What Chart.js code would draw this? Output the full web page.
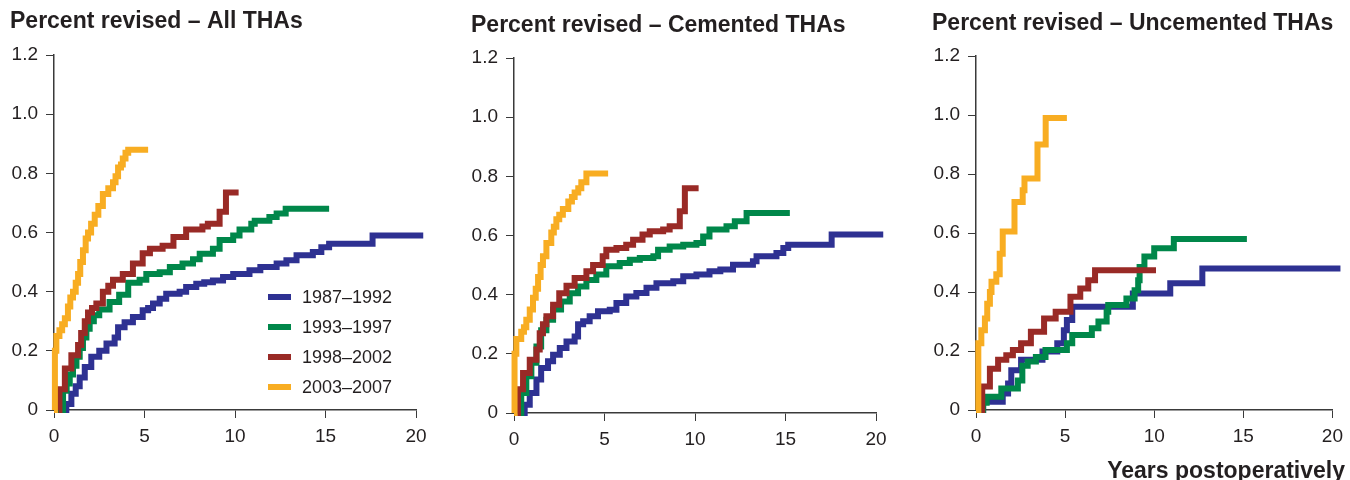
<!DOCTYPE html>
<html>
<head>
<meta charset="utf-8">
<script src="https://cdn.jsdelivr.net/npm/chart.js@4/dist/chart.umd.min.js"></script>
<style>
  body { margin: 0; background: #fff; width: 1350px; height: 480px; overflow: hidden; position: relative;
         font-family: 'Liberation Sans', Arial, sans-serif; color: #231f20; }
  canvas { position: absolute; top: 0; }
  #legend { position: absolute; left: 268px; top: 282px; font-size: 18px; }
  .legend-row { height: 30px; display: flex; align-items: center; }
  .swatch { width: 23px; height: 6px; margin-right: 11px; }
  #xname { position: absolute; right: 5px; top: 457px; font-size: 23px; font-weight: bold; line-height: 26px; }
</style>
</head>
<body>
<canvas id="allChart" width="440" height="480" style="left:0px"></canvas>
<canvas id="cemChart" width="440" height="480" style="left:461px"></canvas>
<canvas id="uncChart" width="428" height="480" style="left:922px"></canvas>
<div id="legend"></div>
<div id="xname">Years postoperatively</div>
<script>
// --- series meta ---
const seriesNames = ['1987–1992', '1993–1997', '1998–2002', '2003–2007'];
const seriesColors = ['#2e3192', '#00874a', '#992a26', '#f8ad22'];
const xTickLabels = ['0', '5', '10', '15', '20'];
const yTickLabels = ['0', '0.2', '0.4', '0.6', '0.8', '1.0', '1.2'];
const panelTitles = ['Percent revised – All THAs', 'Percent revised – Cemented THAs', 'Percent revised – Uncemented THAs'];

// --- All THAs (years, percent revised) ---
const allBlueT = [0.4, 0.68, 0.96, 1.2, 1.42, 1.7, 2.06, 2.5, 2.9, 3.35, 3.54, 3.9, 4.36, 4.9, 5.2, 5.47, 5.84, 6.2, 6.94, 7.3, 7.86, 8.3, 8.78, 9.34, 9.9, 10.8, 11.4, 12.3, 12.84, 13.4, 14.3, 14.77, 15.2, 17.6, 20.4];
const allBlueV = [0, 0.02, 0.055, 0.08, 0.11, 0.145, 0.18, 0.2, 0.225, 0.245, 0.28, 0.297, 0.314, 0.337, 0.345, 0.36, 0.376, 0.393, 0.4, 0.416, 0.427, 0.432, 0.438, 0.45, 0.46, 0.472, 0.483, 0.495, 0.506, 0.523, 0.534, 0.55, 0.562, 0.59, 0.59];
const allGreenT = [0.2, 0.5, 0.7, 0.87, 1.05, 1.24, 1.42, 1.6, 1.79, 1.97, 2.2, 2.5, 3.07, 3.6, 4.1, 4.73, 5.1, 5.84, 6.4, 7.1, 7.68, 8.05, 8.78, 9.15, 9.9, 10.25, 10.9, 11.09, 11.9, 12.3, 12.8, 15.2];
const allGreenV = [0, 0.065, 0.09, 0.12, 0.15, 0.18, 0.21, 0.245, 0.275, 0.3, 0.32, 0.34, 0.365, 0.39, 0.43, 0.44, 0.46, 0.466, 0.483, 0.495, 0.51, 0.528, 0.545, 0.575, 0.59, 0.61, 0.63, 0.64, 0.652, 0.664, 0.68, 0.68];
const allRedT = [0.25, 0.3, 0.6, 0.96, 1.33, 1.5, 1.7, 1.88, 2.1, 2.34, 2.7, 3.0, 3.26, 3.8, 4.36, 4.9, 5.3, 6.0, 6.6, 7.3, 8.2, 8.5, 9.15, 9.5, 10.2];
const allRedV = [0, 0.07, 0.14, 0.185, 0.22, 0.26, 0.3, 0.33, 0.345, 0.36, 0.4, 0.42, 0.44, 0.46, 0.495, 0.53, 0.545, 0.555, 0.585, 0.61, 0.62, 0.63, 0.67, 0.735, 0.735];
const allOrangeT = [0, 0.05, 0.13, 0.3, 0.45, 0.6, 0.77, 0.9, 1.05, 1.2, 1.33, 1.45, 1.6, 1.75, 1.88, 2.05, 2.25, 2.45, 2.7, 3.0, 3.26, 3.4, 3.54, 3.7, 3.8, 3.95, 4.1, 5.2];
const allOrangeV = [0, 0.2, 0.25, 0.27, 0.29, 0.31, 0.35, 0.38, 0.4, 0.43, 0.46, 0.5, 0.54, 0.58, 0.6, 0.63, 0.66, 0.69, 0.73, 0.75, 0.77, 0.79, 0.82, 0.83, 0.85, 0.87, 0.88, 0.88];

// --- Cemented THAs ---
const cemBlueT = [0.4, 0.59, 0.87, 1.24, 1.5, 1.88, 2.16, 2.53, 2.9, 3.35, 3.54, 3.82, 4.18, 4.64, 5.29, 5.66, 6.2, 6.76, 7.32, 7.87, 8.8, 9.35, 10.08, 10.8, 11.4, 12.1, 13.2, 13.4, 14.5, 14.88, 15.15, 17.55, 20.4];
const cemBlueV = [0, 0.028, 0.068, 0.113, 0.152, 0.175, 0.197, 0.22, 0.242, 0.259, 0.3, 0.31, 0.327, 0.344, 0.349, 0.372, 0.394, 0.406, 0.423, 0.439, 0.445, 0.462, 0.468, 0.479, 0.485, 0.501, 0.513, 0.53, 0.541, 0.558, 0.569, 0.603, 0.603];
const cemGreenT = [0.2, 0.4, 0.68, 0.96, 1.24, 1.5, 1.79, 2.16, 2.6, 3.08, 3.54, 4.0, 4.55, 5.1, 5.84, 6.4, 6.95, 7.7, 7.96, 8.6, 9.35, 10.08, 10.45, 10.8, 11.74, 12.2, 12.85, 15.24];
const cemGreenV = [0, 0.068, 0.124, 0.17, 0.225, 0.28, 0.315, 0.35, 0.377, 0.405, 0.428, 0.45, 0.468, 0.496, 0.507, 0.518, 0.524, 0.53, 0.552, 0.563, 0.569, 0.575, 0.597, 0.62, 0.631, 0.648, 0.676, 0.676];
const cemRedT = [0.18, 0.22, 0.5, 0.87, 1.24, 1.42, 1.6, 1.79, 2.16, 2.5, 2.9, 3.35, 4.0, 4.37, 4.9, 5.1, 5.66, 6.2, 6.58, 7.1, 7.5, 8.24, 8.6, 9.16, 9.44, 10.2];
const cemRedV = [0, 0.08, 0.135, 0.18, 0.215, 0.27, 0.3, 0.327, 0.366, 0.405, 0.43, 0.456, 0.479, 0.5, 0.53, 0.552, 0.558, 0.569, 0.586, 0.603, 0.614, 0.62, 0.631, 0.682, 0.76, 0.76];
const cemOrangeT = [0, 0.03, 0.13, 0.4, 0.55, 0.68, 0.87, 1.05, 1.2, 1.33, 1.47, 1.6, 1.79, 2.06, 2.2, 2.34, 2.5, 2.7, 3.0, 3.2, 3.35, 3.55, 3.72, 4.0, 5.2];
const cemOrangeV = [0, 0.2, 0.25, 0.275, 0.29, 0.315, 0.35, 0.39, 0.42, 0.46, 0.5, 0.53, 0.575, 0.61, 0.63, 0.655, 0.67, 0.69, 0.715, 0.73, 0.745, 0.76, 0.78, 0.81, 0.81];

// --- Uncemented THAs ---
const uncBlueT = [0.3, 0.4, 1.5, 1.8, 1.98, 2.53, 3.73, 4.56, 4.93, 5.1, 5.4, 8.8, 10.9, 12.7, 20.45];
const uncBlueV = [0, 0.028, 0.056, 0.09, 0.135, 0.17, 0.198, 0.226, 0.27, 0.305, 0.35, 0.395, 0.43, 0.48, 0.48];
const uncGreenT = [0.3, 0.4, 0.6, 1.42, 2.35, 2.6, 2.9, 3.36, 3.9, 5.1, 5.4, 6.5, 6.87, 7.33, 7.42, 8.44, 8.9, 9.1, 9.18, 9.45, 10.0, 11.1, 15.2];
const uncGreenV = [0, 0.025, 0.045, 0.073, 0.1, 0.15, 0.164, 0.18, 0.203, 0.226, 0.254, 0.277, 0.3, 0.333, 0.356, 0.378, 0.406, 0.44, 0.485, 0.52, 0.548, 0.58, 0.58];
const uncRedT = [0.3, 0.35, 0.78, 1.24, 1.7, 2.07, 2.53, 3.08, 3.82, 4.47, 5.3, 5.85, 6.3, 6.68, 10.1];
const uncRedV = [0, 0.08, 0.14, 0.17, 0.186, 0.203, 0.226, 0.265, 0.31, 0.333, 0.384, 0.412, 0.44, 0.474, 0.474];
const uncOrangeT = [0, 0.13, 0.3, 0.5, 0.63, 0.78, 0.87, 1.14, 1.33, 1.5, 2.16, 2.62, 2.72, 3.45, 3.91, 5.1];
const uncOrangeV = [0, 0.226, 0.27, 0.31, 0.36, 0.4, 0.435, 0.46, 0.53, 0.605, 0.705, 0.745, 0.785, 0.9, 0.99, 0.99];

const FONT = "'Liberation Sans', Arial, sans-serif";
const INK = '#231f20';
const AXIS = '#3a3a3a';

function toPoints(ts, vs) {
    return ts.map((t, i) => ({ x: t, y: vs[i] }));
}

function buildPanel(id, title, series, box) {
    const ctx = document.getElementById(id).getContext('2d');
    return new Chart(ctx, {
        type: 'line',
        data: {
            datasets: series.map((s, i) => ({
                label: seriesNames[i],
                data: toPoints(s[0], s[1]),
                borderColor: seriesColors[i],
                borderWidth: 6,
                stepped: 'before',
                pointRadius: 0,
                fill: false,
                clip: false,
                borderJoinStyle: 'miter',
                borderCapStyle: 'butt',
                order: 4 - i // orange on top
            }))
        },
        options: {
            responsive: false,
            animation: false,
            layout: { padding: { left: 10, right: box.padRight, top: 0, bottom: 0 } },
            plugins: {
                legend: { display: false },
                tooltip: { enabled: false },
                title: {
                    display: true,
                    text: title,
                    align: 'start',
                    color: INK,
                    font: { family: FONT, size: 23, weight: 'bold', lineHeight: 1.2 },
                    padding: { top: box.titleTop, bottom: box.titleBottom }
                }
            },
            scales: {
                x: {
                    type: 'linear',
                    min: 0,
                    max: 20,
                    afterFit: s => { s.height = box.xHeight; },
                    ticks: {
                        stepSize: 5,
                        autoSkip: false,
                        maxRotation: 0,
                        padding: 7,
                        color: INK,
                        font: { family: FONT, size: 19 },
                        callback: (v, i) => xTickLabels[i]
                    },
                    grid: { drawOnChartArea: false, tickLength: 8, color: AXIS, lineWidth: 1 },
                    border: { display: true, color: AXIS, width: 1.5 }
                },
                y: {
                    min: 0,
                    max: 1.2,
                    afterFit: s => { s.width = box.yWidth; },
                    ticks: {
                        stepSize: 0.2,
                        padding: 8,
                        color: INK,
                        font: { family: FONT, size: 19 },
                        callback: (v, i) => yTickLabels[i]
                    },
                    grid: { drawOnChartArea: false, tickLength: 8, color: AXIS, lineWidth: 1 },
                    border: { display: true, color: AXIS, width: 1.5 }
                }
            }
        }
    });
}

buildPanel('allChart', panelTitles[0],
    [[allBlueT, allBlueV], [allGreenT, allGreenV], [allRedT, allRedV], [allOrangeT, allOrangeV]],
    { padRight: 24, yWidth: 44, xHeight: 70, titleTop: 8, titleBottom: 19.4 });

buildPanel('cemChart', panelTitles[1],
    [[cemBlueT, cemBlueV], [cemGreenT, cemGreenV], [cemRedT, cemRedV], [cemOrangeT, cemOrangeV]],
    { padRight: 25, yWidth: 43, xHeight: 67, titleTop: 12, titleBottom: 18.4 });

buildPanel('uncChart', panelTitles[2],
    [[uncBlueT, uncBlueV], [uncGreenT, uncGreenV], [uncRedT, uncRedV], [uncOrangeT, uncOrangeV]],
    { padRight: 13, yWidth: 44, xHeight: 70, titleTop: 10, titleBottom: 18.4 });

// legend for the first panel
const legendEl = document.getElementById('legend');
legendEl.innerHTML = seriesNames.map((name, i) =>
    `<div class="legend-row"><span class="swatch" style="background:${seriesColors[i]}"></span>${name}</div>`
).join('');
</script>
</body>
</html>
